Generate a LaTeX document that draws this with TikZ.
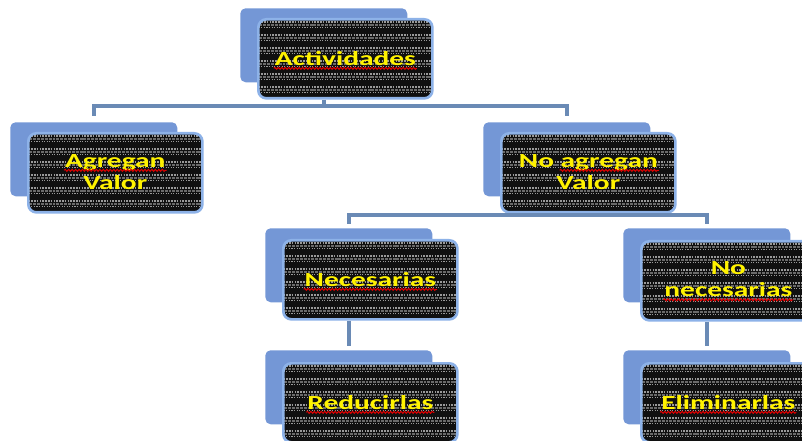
\documentclass[tikz,border=0pt]{standalone}
\usepackage{fontspec}
\newfontfamily\boxfont{Carlito}[FakeStretch=1.47]
\usetikzlibrary{calc,decorations.pathmorphing}
\definecolor{backblue}{HTML}{7497D6}
\definecolor{rimblue}{HTML}{8DB2E8}
\definecolor{connblue}{HTML}{6A8AB5}
\definecolor{texbase}{HTML}{101010}
\definecolor{texlight}{HTML}{9A9A9A}
\definecolor{texmid}{HTML}{6A6A6A}
\definecolor{squigred}{HTML}{E00000}
\tikzset{
  backbox/.style={fill=backblue, rounded corners=4pt, minimum width=125.25pt, minimum height=55.5pt, inner sep=0pt, anchor=north west},
  frontbox/.style={draw=rimblue, line width=2pt, rounded corners=6pt, minimum width=130.5pt, minimum height=59.25pt, inner sep=0pt, anchor=north west,
    path picture={
      \fill[texbase] (path picture bounding box.south west) rectangle (path picture bounding box.north east);
      \foreach \k in {0,...,6}{
        \draw[texlight, line width=1.6pt, dash pattern=on 1.2pt off 0.9pt] ($(path picture bounding box.north west)+(0,3+13*\k)$) -- ++(260,0);
        \draw[texmid, line width=1.6pt, dash pattern=on 2.2pt off 0.7pt] ($(path picture bounding box.north west)+(1,5.5+13*\k)$) -- ++(260,0);
        \draw[texlight, line width=1.2pt, dash pattern=on 0.8pt off 1.1pt] ($(path picture bounding box.north west)+(0.5,8+13*\k)$) -- ++(260,0);
      }
    }},
  lbl/.style={text=yellow, inner sep=0pt, outer sep=0pt, anchor=base, font=\boxfont\bfseries\fontsize{15}{17.25}\selectfont},
  squig/.style={draw=squigred, line width=0.75pt, decorate, decoration={snake, amplitude=0.75pt, segment length=2.6pt}},
  conn/.style={draw=connblue, line width=3pt}
}
\newcommand\squnder[1]{\draw[squig] ($(#1.base west)+(-1,3)$) -- ($(#1.base east)+(1,3)$);}
\begin{document}
\begin{tikzpicture}[x=0.75pt,y=-0.75pt]
\useasboundingbox (0,0) rectangle (802,441);
\clip (0,0) rectangle (802,441);
\fill[white] (0,0) rectangle (802,441);
% back boxes
\node[backbox] (b1) at (240,8) {};
\node[backbox] (b2) at (10,122) {};
\node[backbox] (b3) at (483,122) {};
\node[backbox] (b4) at (265,228) {};
\node[backbox] (b5) at (623,228) {};
\node[backbox] (b6) at (265,350) {};
\node[backbox] (b7) at (623,350) {};
% front boxes
\node[frontbox] (f1) at (257,18) {};
\node[frontbox] (f2) at (27,132) {};
\node[frontbox] (f3) at (500,132) {};
\node[frontbox] (f4) at (282,239) {};
\node[frontbox] (f5) at (640,240) {};
\node[frontbox] (f6) at (282,362) {};
\node[frontbox] (f7) at (640,362) {};
% labels
\node[lbl] (t1) at ($(f1.center)+(0,6.5)$) {Actividades};
\node[lbl] (t2a) at ($(f2.center)+(0,-5.5)$) {Agregan};
\node[lbl] (t2b) at ($(t2a.base)+(0,22.5)$) {Valor};
\node[lbl] (t3a) at ($(f3.center)+(0,-5.5)$) {No agregan};
\node[lbl, anchor=base east] (t3w) at (t3a.base east) {\phantom{agregan}};
\node[lbl] (t3b) at ($(t3a.base)+(0,22.5)$) {Valor};
\node[lbl] (t4) at ($(f4.center)+(0,6.5)$) {Necesarias};
\node[lbl] (t5a) at ($(f5.center)+(0,-6.5)$) {No};
\node[lbl] (t5b) at ($(t5a.base)+(0,22.5)$) {necesarias};
\node[lbl] (t6) at ($(f6.center)+(0,6.5)$) {Reducirlas};
\node[lbl] (t7) at ($(f7.center)+(0,6.5)$) {Eliminarlas};
\squnder{t1}
\squnder{t2a}
\squnder{t3w}
\squnder{t4}
\squnder{t5b}
\squnder{t6}
\squnder{t7}
% connectors
\coordinate (h1) at (0,106);
\coordinate (h2) at (0,215);
\draw[conn] (f1.south -| b1.south) -- (h1 -| b1.south);
\draw[conn] ($(b2.north)+(0,-6)$) -- (h1 -| b2.north) -- (h1 -| b3.north) -- ($(b3.north)+(0,-6)$);
\draw[conn] (f3.south -| b3.south) -- (h2 -| b3.south);
\draw[conn] ($(b4.north)+(0,-4)$) -- (h2 -| b4.north) -- (h2 -| b5.north) -- ($(b5.north)+(0,-4)$);
\draw[conn] (f4.south -| b4.south) -- ($(b6.north)+(0,-4)$);
\draw[conn] (f5.south -| b5.south) -- ($(b7.north)+(0,-4)$);
\end{tikzpicture}
\end{document}
